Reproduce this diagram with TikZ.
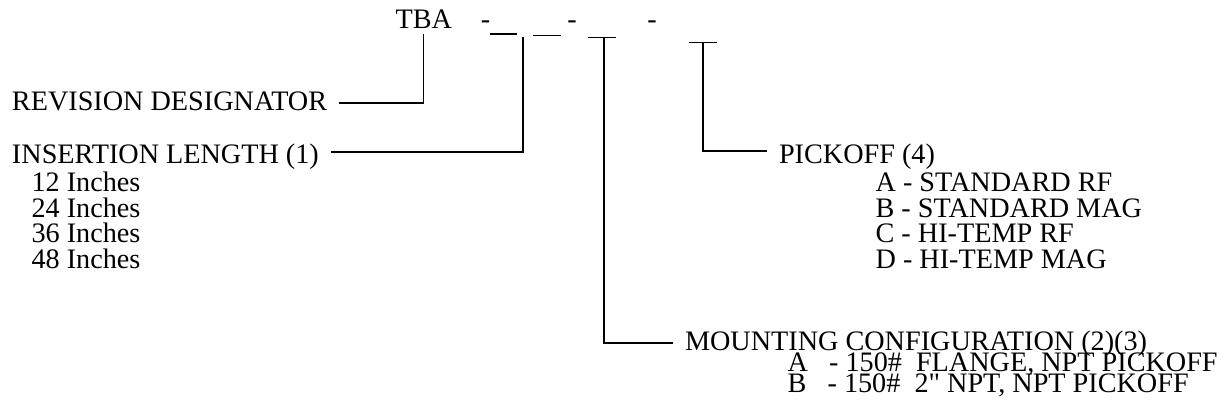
\documentclass[tikz,border=0pt]{standalone}
\usepackage{fontspec}
\setmainfont{Liberation Serif}[Ligatures=TeXOff]
\usetikzlibrary{calc}
\begin{document}
\begin{tikzpicture}[x=1pt, y=-1pt, line width=1.2pt,
  txt/.style={inner sep=0pt, font=\fontsize{28.2}{28.2}\selectfont},
  lbl/.style={txt, outer xsep=12pt, text height=18.5pt, text depth=0pt},
  item/.style={txt, anchor=base west}]
\useasboundingbox (0,0) rectangle (1225,413);

% part number template
\node[txt, anchor=base west] (tba) at (395,28) {TBA};
\node[txt, anchor=base] (h1) at (485.5,28) {-};
\node[txt, anchor=base] (h2) at (572,28) {-};
\node[txt, anchor=base] (h3) at (652,28) {-};

% blanks of the part number
\coordinate (b1l) at (490,34);   \coordinate (b1r) at (517,34);
\coordinate (b2l) at (533,35.5); \coordinate (b2r) at (561,35.5);
\coordinate (b3l) at (588,37.5); \coordinate (b3r) at (616,37.5);
\coordinate (b4l) at (689,42.5); \coordinate (b4r) at (717,42.5);
\draw (b1l) -- (b1r);
\draw (b2l) -- (b2r);
\draw (b3l) -- (b3r);
\draw (b4l) -- (b4r);
\coordinate (lenTop) at (523,36.5);
\coordinate (mntTop) at (604,37.5);
\coordinate (pckTop) at ($(b4l)!0.5!(b4r)$);

% field labels
\node[lbl, anchor=base west] (rev) at (0,110) {REVISION DESIGNATOR};
\node[lbl, anchor=base west] (ins) at (0,163.5) {INSERTION LENGTH (1)};
\node[lbl, anchor=base west] (pck) at (767,163.5) {PICKOFF (4)};
\node[lbl, anchor=base west] (mnt) at (673,350) {MOUNTING CONFIGURATION (2)(3)};

% option lists
\foreach \t [count=\i] in {12,24,36,48}
  \node[item] (len\i) at (31,{191.5+25.6*(\i-1)}) {\t{} Inches};
\foreach \t [count=\i] in {A - STANDARD RF, B - STANDARD MAG, C - HI-TEMP RF, D - HI-TEMP MAG}
  \node[item] (pk\i) at (875,{191.5+25.6*(\i-1)}) {\t};
\node[item] (mt1) at (787,371) {A~~~- 150\#~~FLANGE, NPT PICKOFF};
\node[item] (mt2) at (787,392) {B~~~- 150\#~~2" NPT, NPT PICKOFF};

% leaders from the template to the labels
\draw ([yshift=-6pt]tba.base) |- ([yshift=-2.25pt]rev.east);
\draw (lenTop) |- ([yshift=2.25pt]ins.east);
\draw (mntTop) |- ([yshift=-2.25pt]mnt.west);
\draw (pckTop) |- ([yshift=3.25pt]pck.west);
\end{tikzpicture}
\end{document}
